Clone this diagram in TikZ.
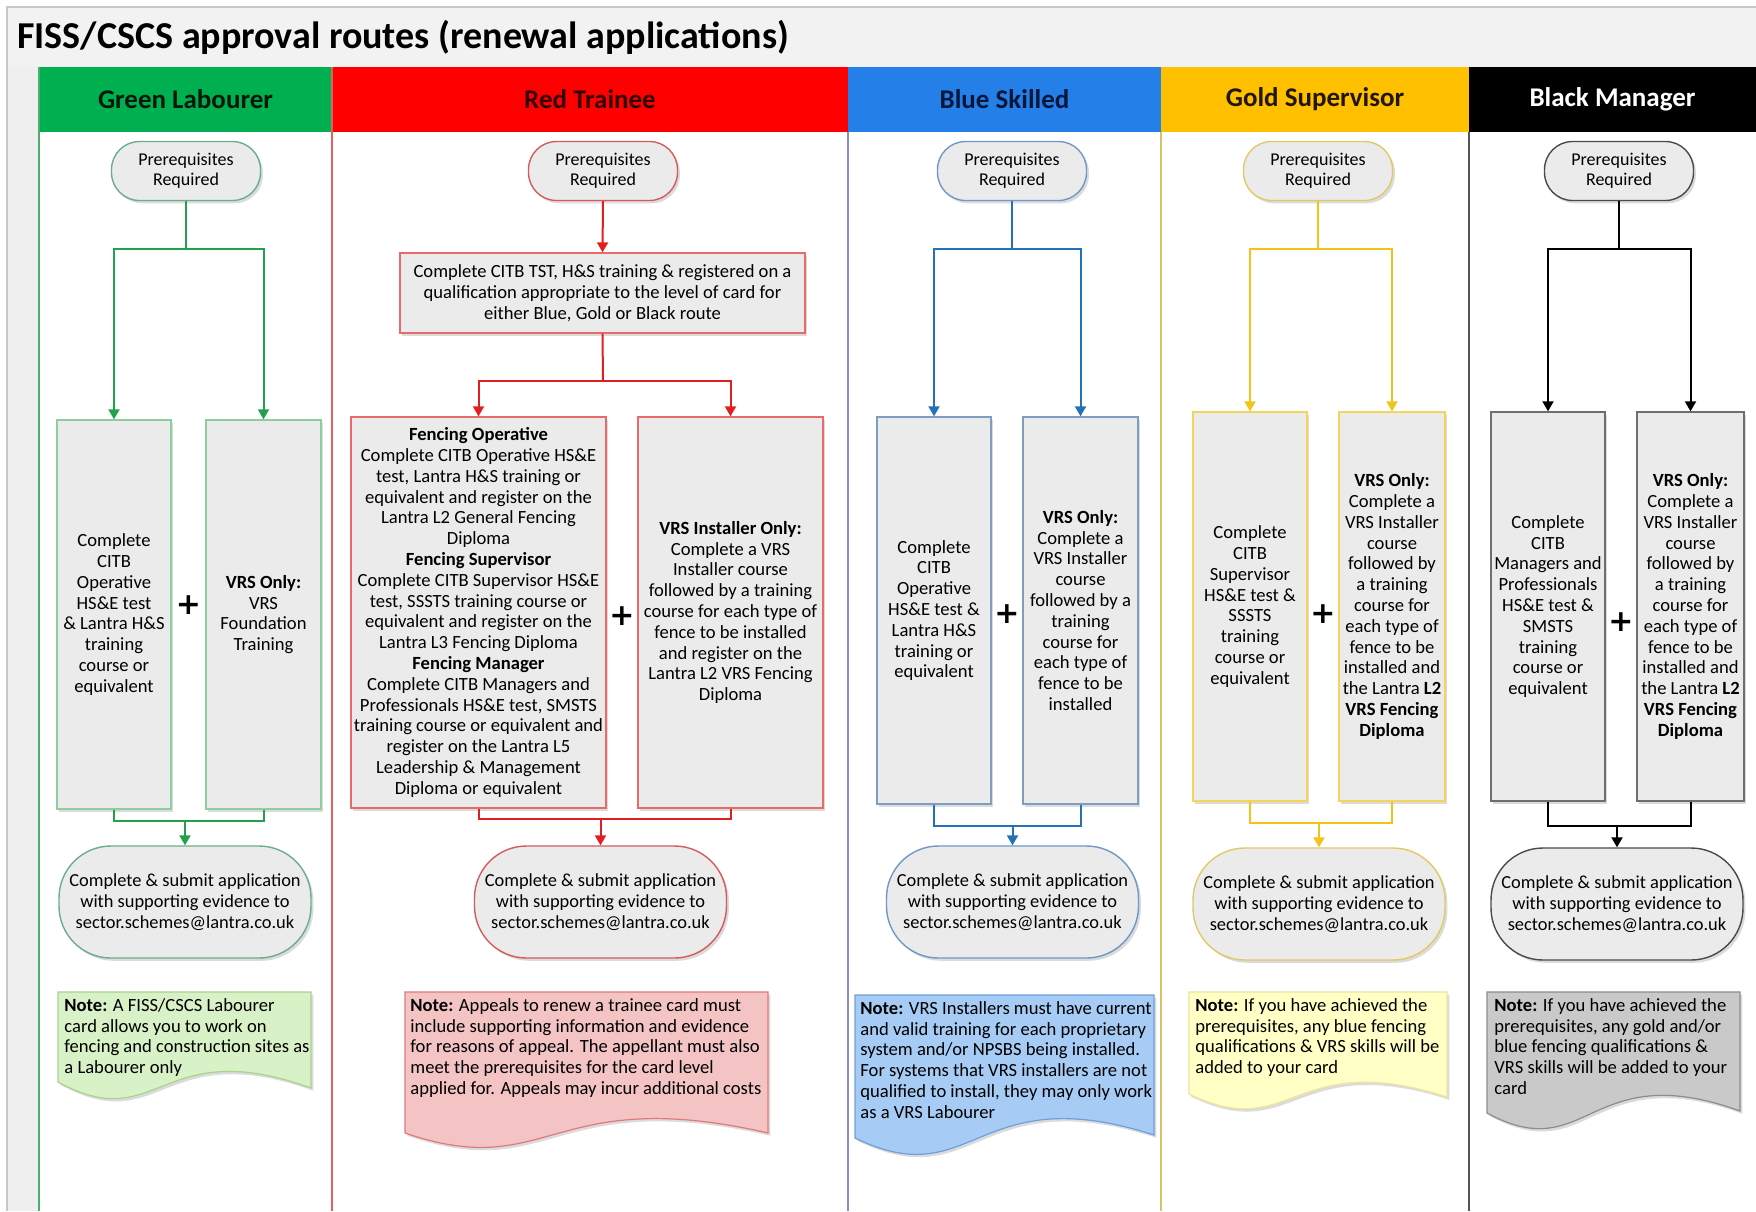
\documentclass[tikz,border=0pt]{standalone}
\usepackage{fontspec}
\setmainfont{Carlito}
\newfontfamily\plusfont{DejaVu Sans}
\usetikzlibrary{shadows,arrows.meta}

\definecolor{titlegrey}{HTML}{F2F2F2}
\definecolor{framegrey}{HTML}{C8C8C8}
\definecolor{stripgrey}{HTML}{EFEFEF}
\definecolor{boxgrey}{HTML}{EBEBEB}
\definecolor{hdrGreen}{HTML}{00B050}
\definecolor{hdrRed}{HTML}{FF0000}
\definecolor{hdrBlue}{HTML}{2480E8}
\definecolor{hdrGold}{HTML}{FFC000}
\definecolor{hdrBlack}{HTML}{000000}
\definecolor{txGreen}{HTML}{06180A}
\definecolor{txRed}{HTML}{330000}
\definecolor{txBlue}{HTML}{08163A}
\definecolor{txGold}{HTML}{221600}
\definecolor{lnGreen}{HTML}{4CAF6E}
\definecolor{lnRed}{HTML}{E06060}
\definecolor{lnBlue}{HTML}{8C8CC4}
\definecolor{lnGold}{HTML}{D9C36A}
\definecolor{lnBlack}{HTML}{555555}
\definecolor{cGreen}{HTML}{22A04B}
\definecolor{cRed}{HTML}{E41E1E}
\definecolor{cBlue}{HTML}{2372B9}
\definecolor{cGold}{HTML}{F2C318}
\definecolor{cBlack}{HTML}{000000}
\definecolor{bGreen}{HTML}{8CCF9C}
\definecolor{bRed}{HTML}{E86A6A}
\definecolor{bBlue}{HTML}{7E9DBF}
\definecolor{bGold}{HTML}{F3D55A}
\definecolor{bBlack}{HTML}{6E6E6E}
\definecolor{sGreen}{HTML}{6AAE8A}
\definecolor{sRed}{HTML}{D55B5B}
\definecolor{sBlue}{HTML}{6F98C8}
\definecolor{sGold}{HTML}{E3C866}
\definecolor{sBlack}{HTML}{4A4A4A}
\definecolor{nfGreen}{HTML}{D8F1C6}
\definecolor{ndGreen}{HTML}{A6D58A}
\definecolor{nfRed}{HTML}{F4C3C3}
\definecolor{ndRed}{HTML}{E07A7A}
\definecolor{nfBlue}{HTML}{A6CCF5}
\definecolor{ndBlue}{HTML}{6E9EDB}
\definecolor{nfGold}{HTML}{FFFFC6}
\definecolor{ndGold}{HTML}{EEE49A}
\definecolor{nfBlack}{HTML}{C9C9C9}
\definecolor{ndBlack}{HTML}{8C8C8C}

\tikzset{
  myshadow/.style={drop shadow={shadow xshift=1.2pt,shadow yshift=-1.4pt,opacity=0.28}},
  procbox/.style={rectangle, fill=boxgrey, draw=#1, line width=0.7pt,
    font=\fontsize{9.3}{10.4}\selectfont, align=center, inner sep=1pt, myshadow},
  prereq/.style={rectangle, rounded corners=14pt, fill=boxgrey, draw=#1, line width=0.7pt,
    minimum width=74.5pt, minimum height=29.5pt, font=\fontsize{9}{10.2}\selectfont,
    align=center, inner sep=1pt, myshadow},
  submit/.style={rectangle, rounded corners=26pt, fill=boxgrey, draw=#1, line width=0.7pt,
    minimum width=126pt, minimum height=56pt, font=\fontsize{9.2}{10.4}\selectfont,
    align=center, inner sep=1pt, myshadow},
  conn/.style={draw=#1, line width=1pt},
  arr/.style={-{Triangle[length=5pt,width=5.5pt]}},
  lanehead/.style={font=\fontsize{13.5}{15}\selectfont\bfseries, text=#1, inner sep=0pt},
  plussign/.style={font=\plusfont\bfseries\fontsize{15}{15}\selectfont, inner sep=0pt},
  notetext/.style={font=\fontsize{9.3}{10.4}\selectfont, align=left, anchor=north west, inner sep=0pt},
  noteshape/.style={line width=0.6pt, myshadow}
}

% #1 x0, #2 y0, #3 x1, #4 bottom-left y, #5 bottom-right y, #6 wave control, #7 fill, #8 draw
\newcommand\wavenote[8]{%
  \path[noteshape, fill=#7, draw=#8] (#1,#2) -- (#3,#2) -- (#3,#5)
    .. controls ({#1+0.4*(#3-#1)},{#5-#6}) and ({#1+0.4*(#3-#1)},{#4+#6}) .. (#1,#4) -- cycle;}

\begin{document}
\begin{tikzpicture}[x=0.5pt,y=-0.5pt]
\useasboundingbox (0,0) rectangle (1756,1211);
\fill[white] (0,0) rectangle (1756,1211);
% title area and frame
\fill[titlegrey] (7,7) rectangle (1756,67);
\fill[stripgrey] (7,67) rectangle (39,1211);
\draw[framegrey, line width=0.8pt] (7,1211) -- (7,7) -- (1756,7);
\node[anchor=west, font=\fontsize{19}{22}\selectfont\bfseries, inner sep=0pt] (title) at (17,37)
  {FISS/CSCS approval routes (renewal applications)};

% lane headers
\fill[hdrGreen] (39,67) rectangle (332,132);
\fill[hdrRed] (332,67) rectangle (848,132);
\fill[hdrBlue] (848,67) rectangle (1161,132);
\fill[hdrGold] (1161,67) rectangle (1469,132);
\fill[hdrBlack] (1469,67) rectangle (1756,132);
\node[lanehead=txGreen] (H1) at (185.5,99) {Green Labourer};
\node[lanehead=txRed] (H2) at (590,99) {Red Trainee};
\node[lanehead=txBlue] (H3) at (1004.5,99) {Blue Skilled};
\node[lanehead=txGold] (H4) at (1315,99) {Gold Supervisor};
\node[lanehead=white] (H5) at (1612.5,99) {Black Manager};

% lane separators
\draw[lnGreen, line width=0.9pt] (39,67) -- (39,1211);
\draw[lnRed, line width=0.9pt] (332,67) -- (332,1211);
\draw[lnBlue, line width=0.9pt] (848,132) -- (848,1211);
\draw[lnGold, line width=0.9pt] (1161,132) -- (1161,1211);
\draw[lnBlack, line width=0.9pt] (1469,132) -- (1469,1211);

% ===== Green lane =====
\node[prereq=sGreen] (P1) at (186,171) {Prerequisites\\Required};
\node[procbox=bGreen, minimum width=57pt, minimum height=194.5pt] (L1) at (114,614.5)
  {Complete\\CITB\\Operative\\HS\&E test\\\& Lantra H\&S\\training\\course or\\equivalent};
\node[procbox=bGreen, minimum width=57.5pt, minimum height=194.5pt] (R1) at (263.5,614.5)
  {\textbf{VRS Only:}\\VRS\\Foundation\\Training};
\node[plussign] (X1) at (188.5,605) {+};
\node[submit=sGreen] (S1) at (185,902)
  {Complete \& submit application\\with supporting evidence to\\sector.schemes@lantra.co.uk};
\coordinate (J1) at (186,249);
\coordinate (B1) at (185,821);
\draw[conn=cGreen] (P1.south) -- (J1);
\draw[conn=cGreen, arr] (J1) -| (L1.north);
\draw[conn=cGreen, arr] (J1) -| (R1.north);
\draw[conn=cGreen] (L1.south) |- (B1);
\draw[conn=cGreen] (R1.south) |- (B1);
\draw[conn=cGreen, arr] (B1) -- (S1.north);
\wavenote{58}{992}{311}{1082}{1088}{55}{nfGreen}{ndGreen}
\node[notetext] (N1) at (64,998)
  {\textbf{Note:} A FISS/CSCS Labourer\\card allows you to work on\\fencing and construction sites as\\a Labourer only};

% ===== Red lane =====
\node[prereq=sRed] (P2) at (603,171) {Prerequisites\\Required};
\node[procbox=bRed, minimum width=202.5pt, minimum height=40pt] (T2) at (602.5,293)
  {Complete CITB TST, H\&S training \& registered on a\\qualification appropriate to the level of card for\\either Blue, Gold or Black route};
\node[procbox=bRed, minimum width=127.5pt, minimum height=195.5pt] (L2) at (478.5,612.5)
  {\textbf{Fencing Operative}\\Complete CITB Operative HS\&E\\test, Lantra H\&S training or\\equivalent and register on the\\Lantra L2 General Fencing\\Diploma\\
   \textbf{Fencing Supervisor}\\Complete CITB Supervisor HS\&E\\test, SSSTS training course or\\equivalent and register on the\\Lantra L3 Fencing Diploma\\
   \textbf{Fencing Manager}\\Complete CITB Managers and\\Professionals HS\&E test, SMSTS\\training course or equivalent and\\register on the Lantra L5\\Leadership \& Management\\Diploma or equivalent};
\node[procbox=bRed, minimum width=92.5pt, minimum height=195.5pt] (R2) at (730.5,612.5)
  {\textbf{VRS Installer Only:}\\Complete a VRS\\Installer course\\followed by a training\\course for each type of\\fence to be installed\\and register on the\\Lantra L2 VRS Fencing\\Diploma};
\node[plussign] (X2) at (622,616) {+};
\node[submit=sRed] (S2) at (600.5,902)
  {Complete \& submit application\\with supporting evidence to\\sector.schemes@lantra.co.uk};
\coordinate (J2) at (603,381);
\coordinate (B2) at (600.5,819);
\draw[conn=cRed, arr] (P2.south) -- (T2.north);
\draw[conn=cRed] (T2.south) -- (J2);
\draw[conn=cRed, arr] (J2) -| (L2.north);
\draw[conn=cRed, arr] (J2) -| (R2.north);
\draw[conn=cRed] (L2.south) |- (B2);
\draw[conn=cRed] (R2.south) |- (B2);
\draw[conn=cRed, arr] (B2) -- (S2.north);
\wavenote{405}{992}{768}{1133}{1133}{50}{nfRed}{ndRed}
\node[notetext] (N2) at (410,998)
  {\textbf{Note:} Appeals to renew a trainee card must\\include supporting information and evidence\\for reasons of appeal. The appellant must also\\meet the prerequisites for the card level\\applied for. Appeals may incur additional costs};

% ===== Blue lane =====
\node[prereq=sBlue] (P3) at (1012,171) {Prerequisites\\Required};
\node[procbox=bBlue, minimum width=57pt, minimum height=193.5pt] (L3) at (934,610.5)
  {Complete\\CITB\\Operative\\HS\&E test \&\\Lantra H\&S\\training or\\equivalent};
\node[procbox=bBlue, minimum width=57.5pt, minimum height=193.5pt] (R3) at (1080.5,610.5)
  {\textbf{VRS Only:}\\Complete a\\VRS Installer\\course\\followed by a\\training\\course for\\each type of\\fence to be\\installed};
\node[plussign] (X3) at (1007,614) {+};
\node[submit=sBlue] (S3) at (1012.5,902)
  {Complete \& submit application\\with supporting evidence to\\sector.schemes@lantra.co.uk};
\coordinate (J3) at (1012,249);
\coordinate (B3) at (1012.5,826);
\draw[conn=cBlue] (P3.south) -- (J3);
\draw[conn=cBlue, arr] (J3) -| (L3.north);
\draw[conn=cBlue, arr] (J3) -| (R3.north);
\draw[conn=cBlue] (L3.south) |- (B3);
\draw[conn=cBlue] (R3.south) |- (B3);
\draw[conn=cBlue, arr] (B3) -- (S3.north);
\wavenote{855}{995}{1154}{1138}{1135}{58}{nfBlue}{ndBlue}
\node[notetext] (N3) at (860,1001)
  {\textbf{Note:} VRS Installers must have current\\and valid training for each proprietary\\system and/or NPSBS being installed.\\For systems that VRS installers are not\\qualified to install, they may only work\\as a VRS Labourer};

% ===== Gold lane =====
\node[prereq=sGold] (P4) at (1318,171) {Prerequisites\\Required};
\node[procbox=bGold, minimum width=57pt, minimum height=194.5pt] (L4) at (1250,606.5)
  {Complete\\CITB\\Supervisor\\HS\&E test \&\\SSSTS\\training\\course or\\equivalent};
\node[procbox=bGold, minimum width=53pt, minimum height=194.5pt] (R4) at (1392,606.5)
  {\textbf{VRS Only:}\\Complete a\\VRS Installer\\course\\followed by\\a training\\course for\\each type of\\fence to be\\installed and\\the Lantra \textbf{L2}\\\textbf{VRS Fencing}\\\textbf{Diploma}};
\node[plussign] (X4) at (1323,614) {+};
\node[submit=sGold] (S4) at (1319,904)
  {Complete \& submit application\\with supporting evidence to\\sector.schemes@lantra.co.uk};
\coordinate (J4) at (1318,249);
\coordinate (B4) at (1319,823);
\draw[conn=cGold] (P4.south) -- (J4);
\draw[conn=cGold, arr] (J4) -| (L4.north);
\draw[conn=cGold, arr] (J4) -| (R4.north);
\draw[conn=cGold] (L4.south) |- (B4);
\draw[conn=cGold] (R4.south) |- (B4);
\draw[conn=cGold, arr] (B4) -- (S4.north);
\wavenote{1189}{992}{1447}{1094}{1097}{50}{nfGold}{ndGold}
\node[notetext] (N4) at (1195,998)
  {\textbf{Note:} If you have achieved the\\prerequisites, any blue fencing\\qualifications \& VRS skills will be\\added to your card};

% ===== Black lane =====
\node[prereq=sBlack] (P5) at (1619,171) {Prerequisites\\Required};
\node[procbox=bBlack, minimum width=57pt, minimum height=194.5pt] (L5) at (1548,606.5)
  {Complete\\CITB\\Managers and\\Professionals\\HS\&E test \&\\SMSTS\\training\\course or\\equivalent};
\node[procbox=bBlack, minimum width=53.5pt, minimum height=194.5pt] (R5) at (1690.5,606.5)
  {\textbf{VRS Only:}\\Complete a\\VRS Installer\\course\\followed by\\a training\\course for\\each type of\\fence to be\\installed and\\the Lantra \textbf{L2}\\\textbf{VRS Fencing}\\\textbf{Diploma}};
\node[plussign] (X5) at (1621,622) {+};
\node[submit=sBlack] (S5) at (1617,904)
  {Complete \& submit application\\with supporting evidence to\\sector.schemes@lantra.co.uk};
\coordinate (J5) at (1619,249);
\coordinate (B5) at (1617,826);
\draw[conn=cBlack] (P5.south) -- (J5);
\draw[conn=cBlack, arr] (J5) -| (L5.north);
\draw[conn=cBlack, arr] (J5) -| (R5.north);
\draw[conn=cBlack] (L5.south) |- (B5);
\draw[conn=cBlack] (R5.south) |- (B5);
\draw[conn=cBlack, arr] (B5) -- (S5.north);
\wavenote{1487}{992}{1740}{1113}{1111}{55}{nfBlack}{ndBlack}
\node[notetext] (N5) at (1494,998)
  {\textbf{Note:} If you have achieved the\\prerequisites, any gold and/or\\blue fencing qualifications \&\\VRS skills will be added to your\\card};
\end{tikzpicture}
\end{document}
